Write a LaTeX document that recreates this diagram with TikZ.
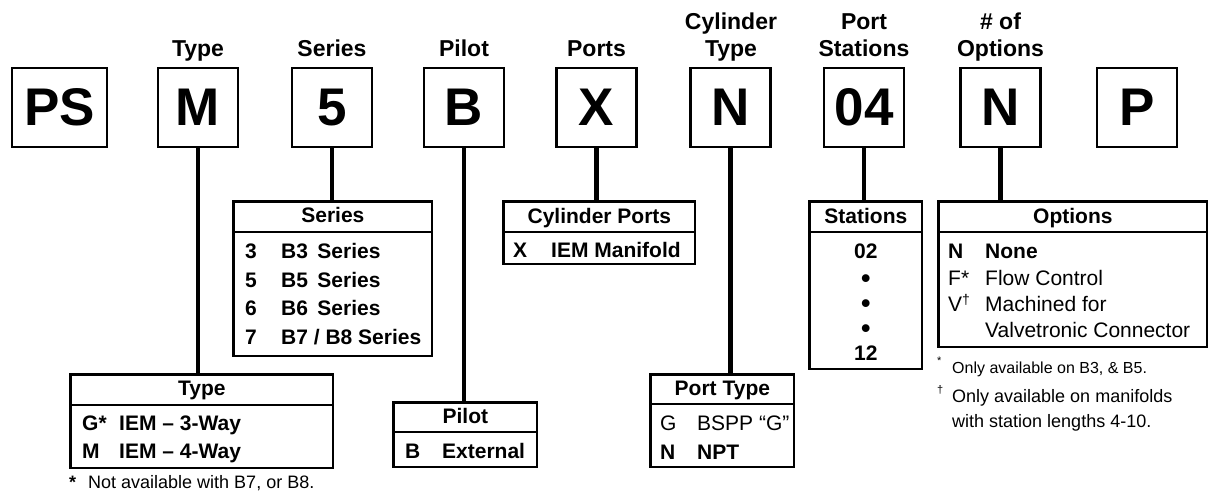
\documentclass[tikz,border=0pt]{standalone}
\usepackage{fontspec}
\setmainfont{Liberation Sans}
\begin{document}
\begin{tikzpicture}[x=1pt,y=-1pt,
  topbox/.style={draw, line width=2.6pt, minimum width=80pt, minimum height=79pt, inner sep=0pt, font=\fontsize{53}{53}\selectfont\bfseries},
  toplabel/.style={anchor=base, inner sep=0pt, font=\fontsize{23}{27}\selectfont\bfseries},
  tbl/.style={draw, line width=2.6pt, anchor=north west, inner sep=0pt},
  divider/.style={line width=2.4pt},
  conn/.style={line width=4.5pt},
  thead/.style={anchor=base, inner sep=0pt, font=\fontsize{21}{25}\selectfont\bfseries},
  tkey/.style={anchor=base west, inner sep=0pt, font=\fontsize{21}{25}\selectfont\bfseries},
  tkeyr/.style={anchor=base west, inner sep=0pt, font=\fontsize{21}{25}\selectfont},
  tmid/.style={anchor=base, inner sep=0pt, font=\fontsize{21}{25}\selectfont\bfseries},
  tdot/.style={anchor=base, inner sep=0pt, text height=15pt, text depth=0pt, font=\fontsize{27}{29}\selectfont\bfseries},
  fnote/.style={anchor=base west, inner sep=0pt, font=\fontsize{18}{21}\selectfont},
  fmark/.style={anchor=base west, inner sep=0pt, font=\fontsize{11}{12}\selectfont},
]
\useasboundingbox (0,0) rectangle (1209,492);

% top code boxes
\node[topbox, minimum width=95pt] (bPS) at (59.5,107.5) {PS};
\node[topbox] (bM) at (198,107.5) {M};
\node[topbox] (b5) at (332,107.5) {5};
\node[topbox] (bB) at (464,107.5) {B};
\node[topbox] (bX) at (596.5,107.5) {X};
\node[topbox] (bN) at (730.5,107.5) {N};
\node[topbox] (b04) at (864,107.5) {04};
\node[topbox] (bO) at (1000.5,107.5) {N};
\node[topbox] (bP) at (1137,107.5) {P};

% top labels
\node[toplabel] (lType) at (198,57) {Type};
\node[toplabel] (lSeries) at (332,57) {Series};
\node[toplabel] (lPilot) at (464,57) {Pilot};
\node[toplabel] (lPorts) at (596.5,57) {Ports};
\node[toplabel] (lCyl1) at (731,30) {Cylinder};
\node[toplabel] (lCyl2) at (731,57) {Type};
\node[toplabel] (lPS1) at (864,30) {Port};
\node[toplabel] (lPS2) at (864,57) {Stations};
\node[toplabel] (lOp1) at (1000.5,30) {\# of};
\node[toplabel] (lOp2) at (1000.5,57) {Options};

% tables
\node[tbl, minimum width=198.5pt, minimum height=154.5pt] (tSeries) at (232.3,200.3) {};
\node[tbl, minimum width=191.5pt, minimum height=62.5pt] (tPorts) at (502.3,200.3) {};
\node[tbl, minimum width=112.5pt, minimum height=167.5pt] (tStations) at (808.3,200.3) {};
\node[tbl, minimum width=268.5pt, minimum height=145.5pt] (tOptions) at (937.3,200.3) {};
\node[tbl, minimum width=262.5pt, minimum height=93.5pt] (tType) at (69.3,373.3) {};
\node[tbl, minimum width=143.5pt, minimum height=64.5pt] (tPilot) at (392.3,401.3) {};
\node[tbl, minimum width=143.5pt, minimum height=92.5pt] (tPortType) at (649.3,373.3) {};

% dividers
\draw[divider] (tSeries.west |- 0,232) -- (tSeries.east |- 0,232);
\draw[divider] (tPorts.west |- 0,232) -- (tPorts.east |- 0,232);
\draw[divider] (tStations.west |- 0,232) -- (tStations.east |- 0,232);
\draw[divider] (tOptions.west |- 0,232) -- (tOptions.east |- 0,232);
\draw[divider] (tType.west |- 0,405) -- (tType.east |- 0,405);
\draw[divider] (tPilot.west |- 0,432) -- (tPilot.east |- 0,432);
\draw[divider] (tPortType.west |- 0,404) -- (tPortType.east |- 0,404);

% connectors
\draw[conn] (bM.south) -- (bM.south |- tType.north);
\draw[conn] (b5.south) -- (b5.south |- tSeries.north);
\draw[conn] (bB.south) -- (bB.south |- tPilot.north);
\draw[conn] (bX.south) -- (bX.south |- tPorts.north);
\draw[conn] (bN.south) -- (bN.south |- tPortType.north);
\draw[conn] (b04.south) -- (b04.south |- tStations.north);
\draw[conn] (bO.south) -- (bO.south |- tOptions.north);

% Series table
\node[thead] (hSeries) at (tSeries.center |- 0,222) {Series};
\node[tkey] (s3k) at (245,258) {3};
\node[tkey] (s3t) at (281,258) {B3\hspace{0.45em}Series};
\node[tkey] (s5k) at (245,287) {5};
\node[tkey] (s5t) at (281,287) {B5\hspace{0.45em}Series};
\node[tkey] (s6k) at (245,315) {6};
\node[tkey] (s6t) at (281,315) {B6\hspace{0.45em}Series};
\node[tkey] (s7k) at (245,344) {7};
\node[tkey] (s7t) at (281,344) {B7 / B8 Series};

% Cylinder Ports table
\node[thead] (hPorts) at (tPorts.center |- 0,223) {Cylinder Ports};
\node[tkey] (pXk) at (513,257) {X};
\node[tkey] (pXt) at (551,257) {IEM Manifold};

% Stations table
\node[thead] (hStations) at (tStations.center |- 0,223) {Stations};
\node[tmid] (st02) at (tStations.center |- 0,258) {02};
\node[tdot] (std1) at (tStations.center |- 0,287) {•};
\node[tdot] (std2) at (tStations.center |- 0,312) {•};
\node[tdot] (std3) at (tStations.center |- 0,337) {•};
\node[tmid] (st12) at (tStations.center |- 0,360) {12};

% Options table
\node[thead] (hOptions) at (tOptions.center |- 0,223) {Options};
\node[tkey] (oNk) at (948,258) {N};
\node[tkey] (oNt) at (985,258) {None};
\node[tkeyr] (oFk) at (948,285) {F*};
\node[tkeyr] (oFt) at (985,285) {Flow Control};
\node[tkeyr] (oVk) at (948,311) {V\raisebox{0.3em}{\fontsize{14}{15}\selectfont †}};
\node[tkeyr] (oVt) at (985,311) {Machined for};
\node[tkeyr] (oVt2) at (985,337) {Valvetronic Connector};
\node[fmark] (fo1m) at (937,364) {*};
\node[fnote, font=\fontsize{16}{19}\selectfont] (fo1) at (952,373) {Only available on B3, \& B5.};
\node[fmark] (fo2m) at (937,393) {†};
\node[fnote] (fo2) at (952,402) {Only available on manifolds};
\node[fnote] (fo3) at (952,427) {with station lengths 4-10.};

% Type table
\node[thead] (hType) at (tType.center |- 0,395) {Type};
\node[tkey] (tGk) at (82,430) {G*};
\node[tkey] (tGt) at (119,430) {IEM – 3-Way};
\node[tkey] (tMk) at (82,458) {M};
\node[tkey] (tMt) at (119,458) {IEM – 4-Way};
\node[fnote, font=\fontsize{18}{21}\selectfont\bfseries] (ftm) at (69,488) {*};
\node[fnote] (ft) at (88,488) {Not available with B7, or B8.};

% Pilot table
\node[thead] (hPilot) at (tPilot.center |- 0,423) {Pilot};
\node[tkey] (plBk) at (405,458) {B};
\node[tkey] (plBt) at (442,458) {External};

% Port Type table
\node[thead] (hPortType) at (tPortType.center |- 0,395) {Port Type};
\node[tkeyr] (ptGk) at (660,430) {G};
\node[tkeyr] (ptGt) at (697,430) {BSPP “G”};
\node[tkey] (ptNk) at (660,459) {N};
\node[tkey] (ptNt) at (697,459) {NPT};
\end{tikzpicture}
\end{document}
